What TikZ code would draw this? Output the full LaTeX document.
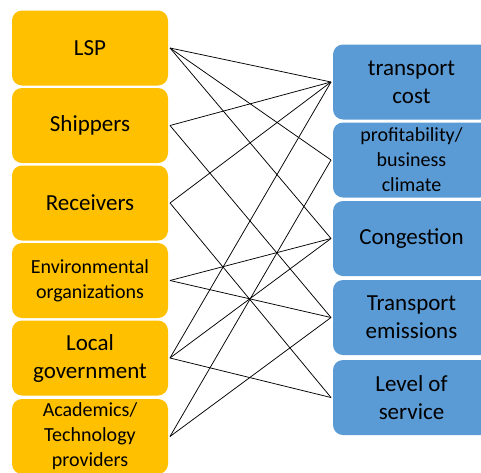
\documentclass[tikz,border=0pt]{standalone}
\usepackage{fontspec}
\setmainfont{Carlito}
\definecolor{orangebox}{HTML}{FFC000}
\definecolor{bluebox}{HTML}{5B9BD5}
\begin{document}
\begin{tikzpicture}[x=1pt,y=-1pt,
  box/.style={rounded corners=10pt, minimum height=75pt, align=center,
    inner sep=0pt, outer sep=2pt, text=black},
  big/.style={font=\fontsize{23}{28}\selectfont},
  small/.style={font=\fontsize{20}{25}\selectfont},
  actor/.style={box, fill=orangebox, minimum width=156pt},
  effect/.style={box, fill=bluebox, minimum width=157pt},
  link/.style={draw=black, line width=0.75pt}]
\useasboundingbox (0,0) rectangle (481,472);
\clip (0,0) rectangle (481,472);

% stakeholders
\node[actor,big]   (lsp)  at (90,48)    {LSP};
\node[actor,big]   (shp)  at (90,125.5) {Shippers};
\node[actor,big]   (rcv)  at (90,203)   {Receivers};
\node[actor,small] (env)  at (90,280.5) {Environmental\\organizations};
\node[actor,big]   (gov)  at (90,358)   {Local\\government};
\node[actor,small] (acad) at (90,436.5) {Academics/\\Technology\\providers};

% impacts
\node[effect,big]   (tc)   at (411.5,82)  {transport\\cost};
\node[effect,small] (prof) at (411.5,160) {profitability/\\business\\climate};
\node[effect,big]   (cong) at (411.5,238.5) {Congestion};
\node[effect,big]   (emis) at (411.5,317.5) {Transport\\emissions};
\node[effect,big]   (los)  at (411.5,397.5) {Level of\\service};

% relations
\draw[link] (lsp.east) -- (tc.west);
\draw[link] (lsp.east) -- (prof.west);
\draw[link] (lsp.east) -- (cong.west);
\draw[link] (shp.east) -- (tc.west);
\draw[link] (shp.east) -- (emis.west);
\draw[link] (rcv.east) -- (tc.west);
\draw[link] (rcv.east) -- (los.west);
\draw[link] (env.east) -- (cong.west);
\draw[link] (env.east) -- (emis.west);
\draw[link] (gov.east) -- (tc.west);
\draw[link] (gov.east) -- (cong.west);
\draw[link] (gov.east) -- (los.west);
\draw[link] (acad.east) -- (prof.west);
\draw[link] (acad.east) -- (emis.west);
\end{tikzpicture}
\end{document}
